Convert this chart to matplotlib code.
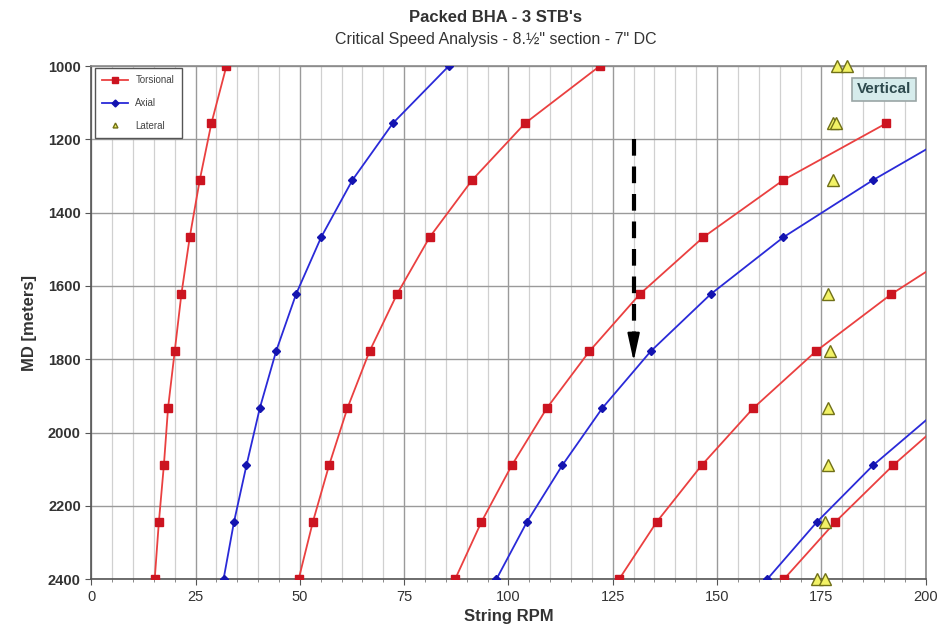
import numpy as np
import matplotlib
matplotlib.use("Agg")
import matplotlib.pyplot as plt

plt.rcParams['font.family'] = ['Liberation Sans Narrow', 'Liberation Sans', 'DejaVu Sans']

nan = np.nan

# measured depths [m]
md = [1000, 1156, 1311, 1467, 1622, 1778, 1933, 2089, 2244, 2400]

# torsional critical speeds (RPM), one list per mode
torsional_1 = [32.4, 28.8, 26.0, 23.6, 21.6, 20.0, 18.4, 17.4, 16.2, 15.2]
torsional_2 = [121.9, 104.0, 91.3, 81.1, 73.3, 66.7, 61.4, 57.0, 53.1, 49.7]
torsional_3 = [nan, 190.6, 165.9, 146.7, 131.5, 119.4, 109.2, 100.8, 93.5, 87.2]
torsional_4 = [nan, nan, nan, 213.0, 191.8, 173.7, 158.7, 146.3, 135.5, 126.5]
torsional_5 = [nan, nan, nan, nan, nan, nan, 207.8, 192.2, 178.3, 166.0]

# axial critical speeds (RPM)
axial_1 = [85.7, 72.3, 62.6, 55.1, 49.1, 44.3, 40.4, 37.2, 34.2, 31.7]
axial_2 = [nan, 211.0, 187.4, 165.9, 148.5, 134.1, 122.5, 112.9, 104.4, 97.1]
axial_3 = [nan, nan, nan, nan, nan, nan, 203.5, 187.4, 173.9, 162.0]

# lateral critical speeds
lateral_md = [1000, 1000, 1156, 1156, 1311, 1622, 1778, 1933, 2089, 2244, 2400, 2400]
lateral_rpm = [178.7, 181.1, 177.9, 178.4, 177.9, 176.7, 177.1, 176.7, 176.5, 175.9, 173.9, 175.9]

x_ticks = [0, 25, 50, 75, 100, 125, 150, 175, 200]
y_ticks = [1000, 1200, 1400, 1600, 1800, 2000, 2200, 2400]

fig = plt.figure(figsize=(9.41, 6.39), dpi=100)
ax = fig.add_axes([0.097, 0.0934, 0.8867, 0.8033])

t_line = '#ea4040'
t_mark = '#cc1420'
a_line = '#2a2ad8'
a_mark = '#1414b0'

for i, t in enumerate([torsional_1, torsional_2, torsional_3, torsional_4, torsional_5]):
    ax.plot(t, md, color=t_line, lw=1.3, marker='s', ms=5.6, mfc=t_mark, mec=t_mark,
            label='Torsional' if i == 0 else None, zorder=3)

for i, a in enumerate([axial_1, axial_2, axial_3]):
    ax.plot(a, md, color=a_line, lw=1.3, marker='D', ms=4.3, mfc=a_mark, mec=a_mark,
            label='Axial' if i == 0 else None, zorder=3)

ax.plot(lateral_rpm, lateral_md, ls='none', marker='^', ms=8, mfc='#f2f266',
        mec='#707018', mew=1.0, label='Lateral', zorder=4, clip_on=False)

# dashed arrow marking the operating speed
ax.plot([130, 130], [1200, 1745], color='black', lw=3, ls=(0, (4, 2.6)), zorder=5)
ax.annotate('', xy=(130, 1805), xytext=(130, 1735),
            arrowprops=dict(arrowstyle='-|>,head_length=1.0,head_width=0.22', color='black',
                            lw=1.5, mutation_scale=17, shrinkA=0, shrinkB=0), zorder=5)

ax.set_xlim(0, 200)
ax.set_ylim(2400, 1000)
ax.set_xticks(x_ticks)
ax.set_xticks(np.arange(0, 201, 5), minor=True)
ax.set_yticks(y_ticks)

ax.grid(which='major', color='#9a9a9a', lw=1.0)
ax.grid(which='minor', axis='x', color='#d0d0d0', lw=0.9)
ax.set_axisbelow(True)

for side in ['top', 'right', 'left', 'bottom']:
    ax.spines[side].set_color('#8a8a8a')
    ax.spines[side].set_linewidth(1.2)
ax.spines['left'].set_color('#555555')
ax.spines['bottom'].set_color('#555555')

ax.tick_params(axis='both', which='major', labelsize=10.5, colors='#555555',
               labelcolor='#333333', length=4)
ax.tick_params(axis='x', which='minor', length=2, colors='#777777')
for lab in ax.get_yticklabels():
    lab.set_fontweight('bold')

ax.set_xlabel('String RPM', fontsize=12, fontweight='bold', color='#333333', labelpad=4)
ax.set_ylabel('MD [meters]', fontsize=12, fontweight='bold', color='#333333', labelpad=8)

leg = ax.legend(loc='upper left', bbox_to_anchor=(0.004, 0.997), fontsize=7,
                frameon=True, fancybox=False, edgecolor='#555555', framealpha=1,
                labelspacing=1.3, handlelength=2.6, borderpad=0.8, borderaxespad=0)
leg.get_frame().set_linewidth(1.0)
for txt in leg.get_texts():
    txt.set_color('#444444')
handles = leg.legend_handles
handles[0].set_markersize(4)
handles[1].set_markersize(3.5)
handles[2].set_markersize(3.5)
leg.set_zorder(6)

ax.text(190, 1063, 'Vertical', fontsize=11, fontweight='bold', color='#2e4a4e',
        ha='center', va='center', zorder=6,
        bbox=dict(boxstyle='square,pad=0.3', fc='#d6ecec', ec='#9aa6a6', lw=1.2))

fig.text(0.527, 0.972, "Packed BHA - 3 STB's", ha='center', va='center',
         fontsize=12, fontweight='bold', color='#333333')
fig.text(0.527, 0.938, 'Critical Speed Analysis - 8.½" section - 7" DC', ha='center',
         va='center', fontsize=11.5, color='#333333')

fig.savefig('out.png', dpi=100)
